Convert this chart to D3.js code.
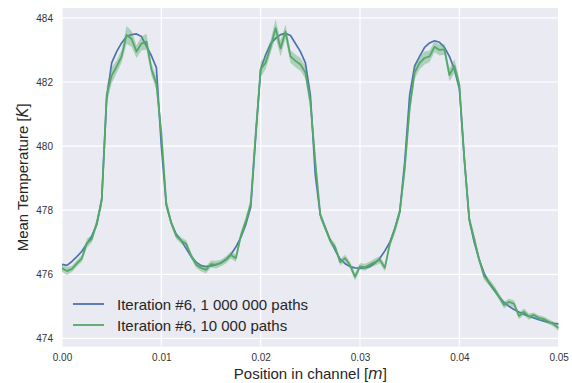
<!DOCTYPE html>
<html><head><meta charset="utf-8">
<script src="https://cdn.jsdelivr.net/npm/d3@7"></script>
<style>
html,body{margin:0;padding:0;background:#fff;}
svg text{font-family:"Liberation Sans",Arial,sans-serif;}
</style></head>
<body><svg id="c" width="572" height="383"></svg>
<script>
const xTicks = [0.00, 0.01, 0.02, 0.03, 0.04, 0.05];
const yTicks = [474, 476, 478, 480, 482, 484];
const seriesNames = ["Iteration #6, 1 000 000 paths", "Iteration #6, 10 000 paths"];
const positionStep = 0.0005;
const blueTemps = [476.31,476.28,476.40,476.55,476.72,476.95,477.20,477.55,478.35,481.50,
482.60,482.95,483.22,483.42,483.48,483.50,483.42,483.12,482.82,482.45,
480.00,478.15,477.60,477.25,477.05,476.80,476.55,476.38,476.27,476.24,
476.26,476.30,476.36,476.46,476.62,476.85,477.15,477.55,478.10,480.30,
482.40,482.85,483.20,483.36,483.48,483.52,483.45,483.20,482.95,482.60,
481.60,479.10,477.85,477.45,477.07,476.75,476.47,476.33,476.24,476.20,
476.19,476.20,476.24,476.35,476.50,476.73,477.00,477.42,477.95,479.50,
481.60,482.50,482.80,483.08,483.22,483.29,483.24,483.08,482.80,482.40,
481.80,479.60,477.70,477.00,476.45,476.03,475.72,475.50,475.30,475.12,
475.00,474.90,474.82,474.75,474.69,474.64,474.58,474.54,474.50,474.47,
474.45];
const greenTemps = [476.19,476.10,476.17,476.34,476.50,476.97,477.10,477.60,478.30,481.60,
482.20,482.48,482.80,483.47,483.35,482.95,483.20,483.26,482.40,481.95,
480.40,478.20,477.60,477.20,477.05,476.95,476.58,476.30,476.20,476.14,
476.32,476.30,476.35,476.45,476.60,476.50,477.20,477.65,478.20,480.40,
482.40,482.60,483.10,483.68,483.05,483.57,482.80,482.66,482.55,482.30,
481.40,479.50,477.85,477.45,477.05,476.84,476.38,476.50,476.28,475.92,
476.25,476.22,476.30,476.38,476.45,476.20,476.95,477.40,477.95,479.30,
481.20,482.30,482.60,482.75,482.80,483.10,483.00,483.02,482.22,482.50,
481.90,479.60,477.70,477.10,476.45,475.93,475.75,475.55,475.30,475.04,
475.14,475.08,474.70,474.83,474.68,474.73,474.64,474.60,474.52,474.44,
474.32];
const greenCI = [0.11,0.12,0.10,0.10,0.11,0.14,0.11,0.14,
0.20,0.28,0.25,0.20,0.20,0.28,0.25,0.20,0.22,0.25,0.20,0.20,0.28,
0.17,0.11,0.10,0.10,0.11,0.10,0.10,0.11,0.11,0.11,0.12,0.10,0.11,0.11,0.12,0.14,0.14,0.17,
0.28,0.25,0.20,0.20,0.28,0.25,0.22,0.20,0.20,0.20,0.20,0.28,0.28,
0.14,0.11,0.10,0.11,0.10,0.11,0.10,0.12,0.10,0.11,0.10,0.11,0.11,0.11,0.11,0.14,0.17,
0.28,0.25,0.20,0.20,0.20,0.18,0.17,0.17,0.17,0.20,0.22,0.20,0.28,
0.17,0.14,0.11,0.11,0.10,0.10,0.10,0.11,0.10,0.11,0.10,0.10,0.10,0.08,0.08,0.08,0.08,0.08,0.10];

const positions = blueTemps.map((_, i) => i * positionStep);
const blueData = positions.map((p, i) => ({x: p, y: blueTemps[i]}));
const greenData = positions.map((p, i) => ({x: p, y: greenTemps[i], c: greenCI[i]}));

const L = 62, R = 558.7, T = 8, B = 346.7;
const svg = d3.select("#c");
const x = d3.scaleLinear().domain([0, 0.05]).range([L, R]);
const y = d3.scaleLinear().domain([473.74, 484.31]).range([B, T]);

svg.append("rect").attr("x", L).attr("y", T).attr("width", R - L).attr("height", B - T).attr("fill", "#EAEAF2");

// grid
svg.append("g").selectAll("line").data(xTicks).join("line")
  .attr("x1", d => x(d)).attr("x2", d => x(d)).attr("y1", T).attr("y2", B)
  .attr("stroke", "#fff").attr("stroke-width", 1.2);
svg.append("g").selectAll("line").data(yTicks).join("line")
  .attr("x1", L).attr("x2", R).attr("y1", d => y(d)).attr("y2", d => y(d))
  .attr("stroke", "#fff").attr("stroke-width", 1.2);

// axes
const xAxis = svg.append("g").attr("transform", `translate(0,${B})`)
  .call(d3.axisBottom(x).tickValues(xTicks).tickFormat(d3.format(".2f")).tickSize(0).tickPadding(7));
const yAxis = svg.append("g").attr("transform", `translate(${L},0)`)
  .call(d3.axisLeft(y).tickValues(yTicks).tickFormat(d3.format("d")).tickSize(0).tickPadding(9));
[xAxis, yAxis].forEach(a => {
  a.select(".domain").remove();
  a.selectAll("text").attr("font-size", 10).attr("fill", "#333")
    .attr("font-family", '"Liberation Sans",Arial,sans-serif');
});

svg.append("clipPath").attr("id", "clp").append("rect")
  .attr("x", L).attr("y", T).attr("width", R - L).attr("height", B - T);
const plot = svg.append("g").attr("clip-path", "url(#clp)");

const line = d3.line().x(d => x(d.x)).y(d => y(d.y));
plot.append("path").datum(blueData).attr("d", line).attr("fill", "none")
  .attr("stroke", "#4C72B0").attr("stroke-width", 1.7).attr("stroke-linejoin", "round");
const area = d3.area().x(d => x(d.x)).y0(d => y(d.y - d.c)).y1(d => y(d.y + d.c));
plot.append("path").datum(greenData).attr("d", area).attr("fill", "#55A868").attr("fill-opacity", 0.4);
plot.append("path").datum(greenData).attr("d", line).attr("fill", "none")
  .attr("stroke", "#55A868").attr("stroke-width", 1.8).attr("stroke-linejoin", "round");

// legend
const colors = ["#4C72B0", "#55A868"];
const lg = svg.append("g");
seriesNames.forEach((name, i) => {
  const ly = 304 + i * 21;
  lg.append("line").attr("x1", 73).attr("x2", 104).attr("y1", ly).attr("y2", ly)
    .attr("stroke", colors[i]).attr("stroke-width", 1.8);
  lg.append("text").attr("x", 117).attr("y", ly + 5.5).attr("font-size", 15)
    .attr("fill", "#262626").text(name);
});

// axis labels
const xl = svg.append("text").attr("x", (L + R) / 2).attr("y", 379).attr("text-anchor", "middle")
  .attr("font-size", 15).attr("fill", "#262626");
xl.append("tspan").text("Position in channel [");
xl.append("tspan").attr("font-style", "italic").attr("font-family", '"DejaVu Sans",sans-serif').text("m");
xl.append("tspan").text("]");

const yl = svg.append("text").attr("transform", `translate(28,${(T + B) / 2}) rotate(-90)`)
  .attr("text-anchor", "middle").attr("font-size", 15).attr("fill", "#262626");
yl.append("tspan").text("Mean Temperature [");
yl.append("tspan").attr("font-style", "italic").attr("font-family", '"DejaVu Sans",sans-serif').text("K");
yl.append("tspan").text("]");
</script>
</body></html>
